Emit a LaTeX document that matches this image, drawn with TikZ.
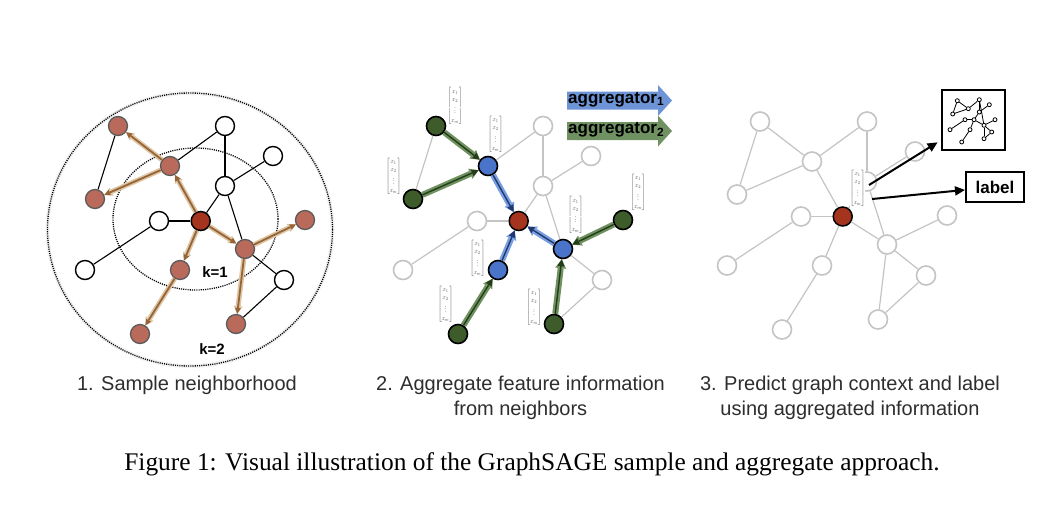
\documentclass[tikz,border=0pt]{standalone}
\usepackage{fontspec}
\usepackage{amsmath}
\setmainfont{Liberation Serif}
\setsansfont{Liberation Sans}
\usetikzlibrary{arrows.meta}
\definecolor{redfill}{RGB}{165,52,30}
\definecolor{brownfill}{RGB}{186,106,90}
\definecolor{brownborder}{RGB}{90,90,90}
\definecolor{browncore}{RGB}{150,100,55}
\definecolor{brownhalo}{RGB}{222,198,165}
\definecolor{bluefill}{RGB}{74,116,201}
\definecolor{greenfill}{RGB}{62,92,42}
\definecolor{bluehalo}{RGB}{120,160,225}
\definecolor{bluecore}{RGB}{35,55,110}
\definecolor{greenhalo}{RGB}{110,145,95}
\definecolor{greencore}{RGB}{35,60,25}
\definecolor{edgegray}{RGB}{196,196,196}
\definecolor{aggblue}{RGB}{108,148,214}
\definecolor{agggreen}{RGB}{112,146,98}
\definecolor{vecgray}{RGB}{85,85,85}
\newcommand{\fvec}{\resizebox*{15pt}{37pt}{$\begin{bmatrix}x_1\\x_2\\\vdots\\x_m\end{bmatrix}$}}
\begin{document}
\begin{tikzpicture}[x=1pt,y=-1pt,
  nd/.style={circle, minimum size=19pt, inner sep=0pt, line width=1.3pt},
  wnode/.style={nd, draw=black, fill=white, line width=1.4pt},
  bnode/.style={nd, draw=brownborder, fill=brownfill},
  rnode/.style={nd, draw=black, fill=redfill, line width=1.5pt},
  gnode/.style={nd, draw=edgegray, fill=white, line width=1.6pt},
  blnode/.style={nd, draw=black, fill=bluefill, line width=1.6pt},
  grnode/.style={nd, draw=black, fill=greenfill, line width=1.6pt},
  edgeone/.style={draw=black, line width=1.1pt},
  edgetwo/.style={draw=edgegray, line width=1.2pt},
  brhalo/.style={draw=brownhalo, line width=5pt, -{Triangle[length=8pt,width=9pt,line width=0pt]}},
  brcore/.style={draw=browncore, line width=1.8pt, -{Triangle[length=6pt,width=6pt,line width=0pt]}},
  blhalo/.style={draw=bluehalo, line width=6pt, -{Triangle[length=9pt,width=11pt,line width=0pt]}},
  blcore/.style={draw=bluecore, line width=1.4pt, -{Triangle[length=7pt,width=7pt,line width=0pt]}},
  grhalo/.style={draw=greenhalo, line width=6pt, -{Triangle[length=9pt,width=11pt,line width=0pt]}},
  grcore/.style={draw=greencore, line width=1.4pt, -{Triangle[length=7pt,width=7pt,line width=0pt]}},
  predarrow/.style={draw=black, line width=2pt, -{Triangle[length=10pt,width=9pt]}},
  vec/.style={inner sep=0pt, text=vecgray},
  subcap/.style={inner sep=0pt, anchor=base, text=black!82, font=\sffamily\fontsize{20}{24}\selectfont},
  kl/.style={inner sep=0pt, font=\sffamily\bfseries\fontsize{15}{18}\selectfont},
  aggtext/.style={inner sep=0pt, anchor=west, font=\sffamily\bfseries\fontsize{17}{20}\selectfont},
  inode/.style={circle, draw=black, fill=white, line width=0.8pt, minimum size=4pt, inner sep=0pt},
  iedge/.style={draw=black, line width=0.8pt}
]
\useasboundingbox (0,0) rectangle (1064,504);
\fill[white] (0,0) rectangle (1064,504);

% ---------------- Panel 1 ----------------
\draw[black!5, line width=4pt] (190,229.5) ellipse [x radius=142.5, y radius=136.5];
\draw[line width=1.3pt, dash pattern=on 1.1pt off 1.1pt] (190,229.5) ellipse [x radius=142.5, y radius=136.5];
\draw[line width=1.3pt, dash pattern=on 1.1pt off 1.1pt] (195.5,219) ellipse [x radius=82.5, y radius=71];

\node[rnode] (p1c) at (200.7,221) {};
\foreach \n/\x/\y in {A/118/126,B/170/166,C/95/199,H/305/220,I/245/249,J/180/270,M/236/324,N/140/334}
  \node[bnode] (p1\n) at (\x,\y) {};
\foreach \n/\x/\y in {D/225/126,E/273/156,F/225/186,G/159/221,K/85/270,L/284/280}
  \node[wnode] (p1\n) at (\x,\y) {};
\foreach \a/\b in {A/C,B/D,D/F,E/F,F/c,G/c,G/K,F/I,I/L,L/M}
  \draw[edgeone] (p1\a) -- (p1\b);
\foreach \a/\b in {c/B,B/A,B/C,c/J,J/N,c/I,I/H,I/M}
  {\draw[brhalo] (p1\a) -- (p1\b); \draw[brcore] (p1\a) -- (p1\b);}
\node[kl] (k1) at (215,272) {k=1};
\node[kl] (k2) at (212,349) {k=2};

% ---------------- Panel 2 ----------------
\begin{scope}[shift={(318,0)}]
\node[rnode] (p2c) at (200.7,221) {};
\foreach \n/\x/\y in {A/118/126,C/95/199,H/305/220,M/236/324,N/140/334}
  \node[grnode] (p2\n) at (\x,\y) {};
\foreach \n/\x/\y in {B/170/166,I/245/249,J/180/270}
  \node[blnode] (p2\n) at (\x,\y) {};
\foreach \n/\x/\y in {D/225/126,E/273/156,F/225/186,G/159/221,K/85/270,L/284/280}
  \node[gnode] (p2\n) at (\x,\y) {};
\end{scope}
\foreach \a/\b in {A/C,B/D,D/F,E/F,F/c,G/c,G/K,F/I,I/L,L/M}
  \draw[edgetwo] (p2\a) -- (p2\b);
\foreach \a/\b in {A/B,C/B,N/J,H/I,M/I}
  {\draw[grhalo] (p2\a) -- (p2\b); \draw[grcore] (p2\a) -- (p2\b);}
\foreach \a/\b in {B/c,J/c,I/c}
  {\draw[blhalo] (p2\a) -- (p2\b); \draw[blcore] (p2\a) -- (p2\b);}
\foreach \n/\x/\y in {1/455/106,2/495.5/134.5,3/393.5/176.5,4/477.5/258.5,5/445.5/304.5,6/575.5/215,7/638/192.5,8/534/307.5}
  \node[vec] (v\n) at (\x,\y) {\fvec};

% aggregator legend
\fill[aggblue] (567,91.5) -- (658,91.5) -- (658,85) -- (672,100.5) -- (658,116) -- (658,109.5) -- (567,109.5) -- cycle;
\fill[agggreen] (567,122) -- (658,122) -- (658,115.5) -- (672,131) -- (658,146.5) -- (658,140) -- (567,140) -- cycle;
\node[aggtext] (ag1) at (568,99.5) {aggregator\textsubscript{1}};
\node[aggtext] (ag2) at (568,130) {aggregator\textsubscript{2}};

% ---------------- Panel 3 ----------------
\begin{scope}[shift={(642,-4.5)}]
\node[rnode] (p3c) at (200.7,221) {};
\foreach \n/\x/\y in {A/118/126,B/170/166,C/95/199,H/305/220,I/245/249,J/180/270,M/236/324,N/140/334,D/225/126,E/273/156,F/225/186,G/159/221,K/85/270,L/284/280}
  \node[gnode] (p3\n) at (\x,\y) {};
\end{scope}
\foreach \a/\b in {A/B,B/C,A/C,B/D,B/c,D/F,E/F,F/c,G/c,G/K,c/J,J/N,c/I,F/I,I/H,I/L,L/M,I/M}
  \draw[edgetwo] (p3\a) -- (p3\b);
\node[vec, fill=white] (v9) at (857.5,188.5) {\fvec};

\node[draw=black, line width=2pt, minimum width=63pt, minimum height=60pt, inner sep=0pt] (icon) at (973.5,120) {};
\node[draw=black, line width=2pt, minimum width=58pt, minimum height=30pt, inner sep=0pt,
      font=\sffamily\bfseries\fontsize{17}{20}\selectfont] (lab) at (995,187) {label};
\coordinate (s1) at (869,185);
\coordinate (s2) at (872,199);
\draw[predarrow, shorten >=4pt] (s1) -- (icon);
\draw[predarrow] (s2) -- (lab);

% icon graph
\foreach \n/\x/\y in {1/957.3/100.7,2/979.3/99.7,3/968.3/108.7,4/952.7/114,5/989.3/104.7,6/979.3/112,7/965/119.7,8/974/119.7,9/995/119.7,10/984/125.3,11/950/129.7,12/970/129.7,13/991.7/132,14/984/138.7,15/961.7/142}
  \node[inode] (i\n) at (\x,\y) {};
\foreach \a/\b in {1/3,1/4,3/4,3/2,2/6,5/6,6/8,7/8,7/11,8/10,10/9,10/13,13/14,10/14,8/12,12/15,2/10}
  \draw[iedge] (i\a) -- (i\b);

% ---------------- captions ----------------
\node[subcap] (sub1) at (187,390) {1. Sample neighborhood};
\node[subcap] (sub2a) at (520.5,390) {2. Aggregate feature information};
\node[subcap] (sub2b) at (520.5,415) {from neighbors};
\node[subcap] (sub3a) at (850,390) {3. Predict graph context and label};
\node[subcap] (sub3b) at (850,415) {using aggregated information};
\node[inner sep=0pt, anchor=base, font=\fontsize{25.4}{30}\selectfont] (cap) at (532,470)
  {Figure 1: Visual illustration of the GraphSAGE sample and aggregate approach.};
\end{tikzpicture}
\end{document}
